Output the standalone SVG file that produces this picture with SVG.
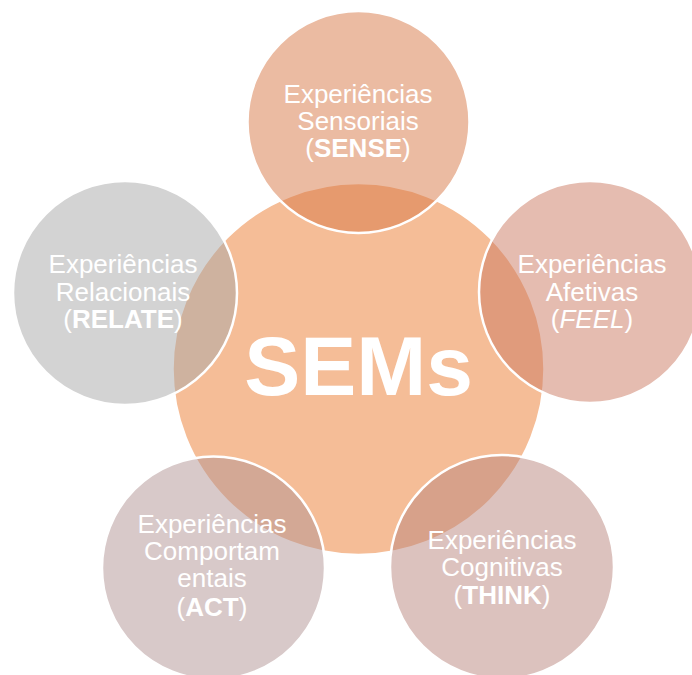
<svg xmlns="http://www.w3.org/2000/svg" width="692" height="675" viewBox="0 0 692 675">
  <style>
    .ring { stroke: #ffffff; stroke-width: 2.5; fill-opacity: 0.5; }
    .lbl { font-family: "Liberation Sans", Arial, sans-serif; font-size: 26px; fill: #ffffff; text-anchor: middle; }
    .b { font-weight: bold; }
    .i { font-style: italic; }
    .hub { font-family: "Liberation Sans", Arial, sans-serif; font-size: 84px; font-weight: bold; fill: #ffffff; text-anchor: middle; }
  </style>
  <rect width="692" height="675" fill="#ffffff"/>

  <g id="sems">
    <circle cx="358.5" cy="369" r="186" fill="#F5BD97" stroke="#ffffff" stroke-width="2.5"/>
    <text class="hub" x="358.5" y="395">SEMs</text>
  </g>

  <g id="sense">
    <circle class="ring" cx="358.5" cy="122" r="111" fill="#D77745"/>
    <text class="lbl" x="358" y="103">Experiências</text>
    <text class="lbl" x="358" y="130">Sensoriais</text>
    <text class="lbl" x="358" y="157">(<tspan class="b">SENSE</tspan>)</text>
  </g>

  <g id="feel">
    <circle class="ring" cx="590" cy="292" r="111" fill="#CB7961"/>
    <text class="lbl" x="592" y="273">Experiências</text>
    <text class="lbl" x="592" y="301">Afetivas</text>
    <text class="lbl" x="592" y="328">(<tspan class="i">FEEL</tspan>)</text>
  </g>

  <g id="think">
    <circle class="ring" cx="502" cy="567" r="112" fill="#B9857D"/>
    <text class="lbl" x="502" y="549">Experiências</text>
    <text class="lbl" x="502" y="576">Cognitivas</text>
    <text class="lbl" x="502" y="604">(<tspan class="b">THINK</tspan>)</text>
  </g>

  <g id="act">
    <circle class="ring" cx="213.5" cy="568" r="111.5" fill="#B19393"/>
    <text class="lbl" x="212" y="533">Experiências</text>
    <text class="lbl" x="212" y="560">Comportam</text>
    <text class="lbl" x="212" y="587">entais</text>
    <text class="lbl" x="212" y="616">(<tspan class="b">ACT</tspan>)</text>
  </g>

  <g id="relate">
    <circle class="ring" cx="125" cy="293" r="112" fill="#A7A7A7"/>
    <text class="lbl" x="123" y="273">Experiências</text>
    <text class="lbl" x="123" y="301">Relacionais</text>
    <text class="lbl" x="123" y="328">(<tspan class="b">RELATE</tspan>)</text>
  </g>

  <g id="connectors"/>
</svg>
